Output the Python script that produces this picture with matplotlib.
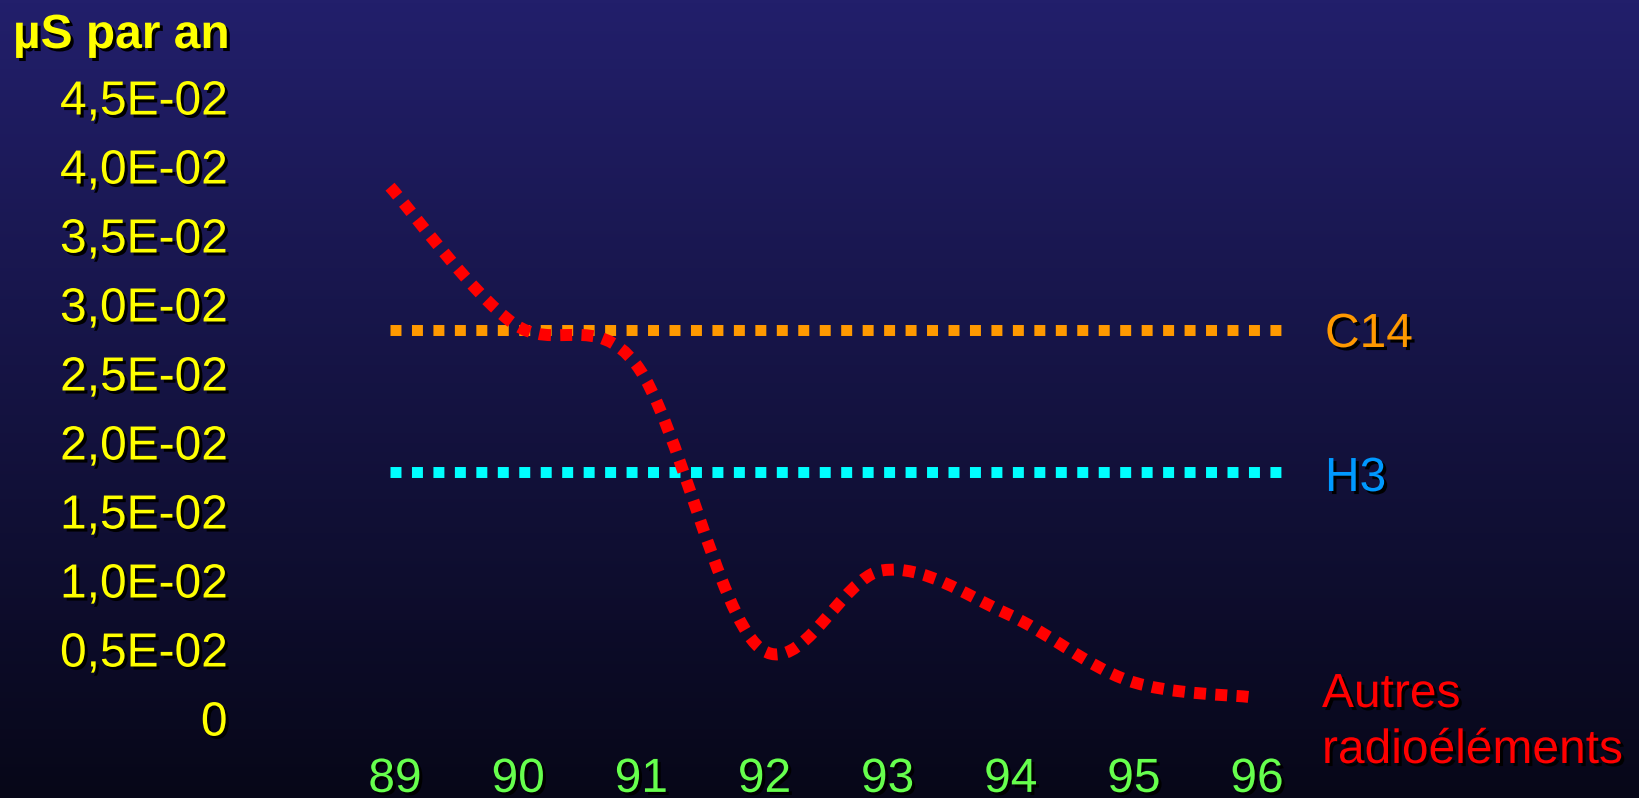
import numpy as np
import matplotlib
matplotlib.use("Agg")
import matplotlib.pyplot as plt
from matplotlib.path import Path
from matplotlib.patches import PathPatch
import matplotlib.patheffects as pe
import matplotlib.transforms as mtransforms

# ---- data -------------------------------------------------------------
years = ["89", "90", "91", "92", "93", "94", "95", "96"]
autres = [0.0385, 0.0286, 0.0256, 0.0051, 0.0107, 0.0076, 0.0027, 0.0015]
c14_level = 0.0281
h3_level = 0.0178
ref_span = [0.0, 7.26]          # extent of the two reference levels, in category units
y_ticks = [0.0, 0.005, 0.010, 0.015, 0.020, 0.025, 0.030, 0.035, 0.040, 0.045]
y_labels = ["0", "0,5E-02", "1,0E-02", "1,5E-02", "2,0E-02", "2,5E-02",
            "3,0E-02", "3,5E-02", "4,0E-02", "4,5E-02"]
unit_label = "µS par an"

# ---- style ------------------------------------------------------------
W, H = 1640, 798
FS = 34.5
FONT = "Liberation Sans"
YELLOW = "#FFFF00"
GREEN = "#66FF4D"
ORANGE = "#FF9900"
CYAN = "#00FFFF"
BLUE = "#0099FF"
RED = "#FF0000"
shadow = [pe.withSimplePatchShadow(offset=(2.2, -2.2), shadow_rgbFace="black", alpha=1.0)]

fig = plt.figure(figsize=(W / 100, H / 100), dpi=100)


def fx(px):
    return px / W


def fy(py):
    return 1 - py / H


# background: vertical gradient from deep blue to near black
bg = fig.add_axes([0, 0, 1, 1], zorder=0)
bg.set_axis_off()
top = np.array([34, 31, 107]) / 255
bot = np.array([7, 7, 24]) / 255
t = np.linspace(0, 1, 256)[:, None]
grad = top[None, :] * (1 - t) + bot[None, :] * t
bg.imshow(grad[:, None, :], aspect="auto", extent=[0, 1, 0, 1])

ax = fig.add_axes([fx(390), fy(718), fx(1252) - fx(390), fy(97) - fy(718)], zorder=1)
ax.patch.set_alpha(0)
for s in ax.spines.values():
    s.set_visible(False)
ax.set_xlim(0, len(years) - 1)
ax.set_ylim(0, 0.045)

x = np.arange(len(years))

# reference levels
for level, col in ((c14_level, ORANGE), (h3_level, CYAN)):
    ax.plot(ref_span, [level, level], color=col, lw=7.9,
            linestyle=(0, (1.0, 0.956)), solid_capstyle="butt", dash_capstyle="butt",
            clip_on=False, zorder=2)

# smoothed series: cubic Bezier segments through each point (Catmull-Rom tangents)
pts = np.column_stack([x, autres]).astype(float)
ext = np.vstack([pts[0], pts, pts[-1]])
verts = [tuple(pts[0])]
codes = [Path.MOVETO]
for i in range(len(pts) - 1):
    p0, p1, p2, p3 = ext[i], ext[i + 1], ext[i + 2], ext[i + 3]
    c1 = p1 + (p2 - p0) / 6
    c2 = p2 - (p3 - p1) / 6
    verts += [tuple(c1), tuple(c2), tuple(p2)]
    codes += [Path.CURVE4] * 3
curve = PathPatch(Path(verts, codes), fill=False, edgecolor=RED, lw=8.6,
                  linestyle=(0, (1.0, 0.78)), capstyle="butt", clip_on=False, zorder=3)
ax.add_patch(curve)

# ticks
ax.set_xticks(x)
ax.set_xticklabels(years)
ax.set_yticks(y_ticks)
ax.set_yticklabels(y_labels)
ax.tick_params(axis="both", length=0)
ax.tick_params(axis="y", pad=117)
ax.tick_params(axis="x", pad=28)
for lab in ax.get_yticklabels():
    lab.set_fontfamily(FONT)
    lab.set_fontsize(FS)
    lab.set_color(YELLOW)
    lab.set_verticalalignment("center_baseline")
    lab.set_path_effects(shadow)
nudge = mtransforms.ScaledTranslation(5 / 100, 0, fig.dpi_scale_trans)
for lab in ax.get_xticklabels():
    lab.set_fontfamily(FONT)
    lab.set_fontsize(FS)
    lab.set_color(GREEN)
    lab.set_path_effects(shadow)
    lab.set_transform(lab.get_transform() + nudge)

# unit label
fig.text(fx(13), fy(48), unit_label, fontfamily=FONT, fontsize=FS, fontweight="bold",
         color=YELLOW, ha="left", va="baseline", path_effects=shadow)

# series names
fig.text(fx(1325), fy(347), "C14", fontfamily=FONT, fontsize=FS, color=ORANGE,
         ha="left", va="baseline", path_effects=shadow)
fig.text(fx(1325), fy(491), "H3", fontfamily=FONT, fontsize=FS, color=BLUE,
         ha="left", va="baseline", path_effects=shadow)
fig.text(fx(1322), fy(707), "Autres", fontfamily=FONT, fontsize=FS, color=RED,
         ha="left", va="baseline", path_effects=shadow)
fig.text(fx(1322), fy(763), "radioéléments", fontfamily=FONT, fontsize=FS, color=RED,
         ha="left", va="baseline", path_effects=shadow)

fig.savefig("out.png", dpi=100)
